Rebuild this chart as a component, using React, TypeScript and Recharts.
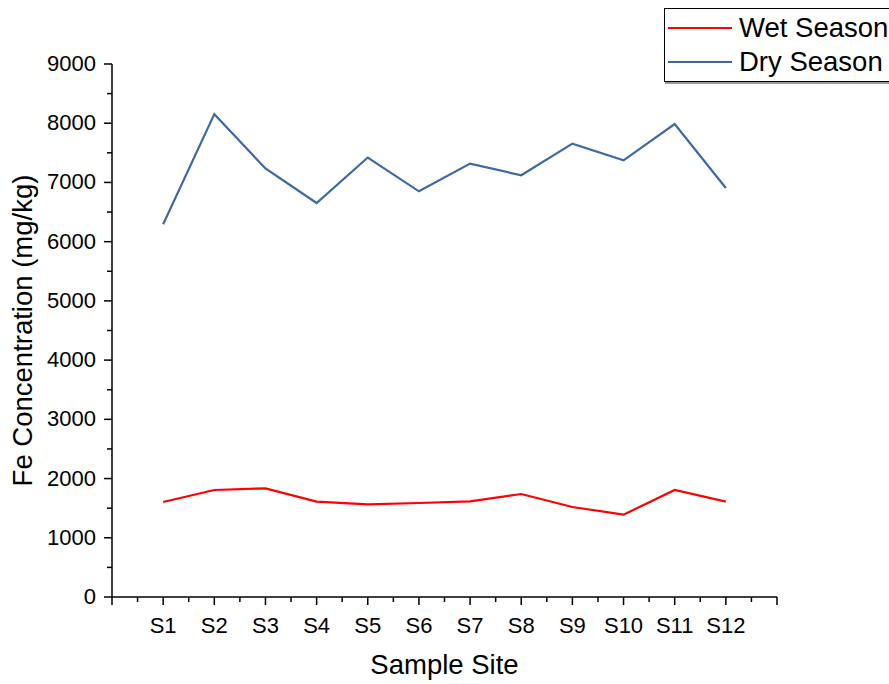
import React from "react";
import { LineChart, Line, XAxis, YAxis, Legend } from "recharts";

const sites = ["S1", "S2", "S3", "S4", "S5", "S6", "S7", "S8", "S9", "S10", "S11", "S12"];
const wetSeason = [1604, 1807, 1835, 1610, 1565, 1587, 1616, 1739, 1520, 1390, 1807, 1610];
const drySeason = [6294, 8153, 7235, 6653, 7421, 6850, 7318, 7121, 7655, 7374, 7987, 6906];
const yLabels = [0, 1000, 2000, 3000, 4000, 5000, 6000, 7000, 8000, 9000];
const seriesNames = ["Wet Season", "Dry Season"];

const FONT = "'Liberation Sans', Arial, sans-serif";

const data = sites.map((site, i) => ({
  pos: i + 1,
  site,
  wet: wetSeason[i],
  dry: drySeason[i],
}));

// major ticks on each site (plus the empty ends), minor ticks half way between
const xTicks: number[] = [];
for (let i = 0; i <= sites.length + 1; i += 0.5) xTicks.push(i);
const yTicks: number[] = [];
for (let v = 0; v <= 9000; v += 500) yTicks.push(v);

const XTick = (props: any) => {
  const { x, y, payload } = props;
  const v = payload.value;
  const major = Number.isInteger(v);
  const label = major ? sites[v - 1] : undefined;
  return (
    <g>
      <line x1={x} x2={x} y1={y} y2={y + (major ? 8 : 5)} stroke="#000" strokeWidth={1.5} />
      {label && (
        <text x={x} y={y + 36} textAnchor="middle" fontSize={22} fontFamily={FONT} fill="#000">
          {label}
        </text>
      )}
    </g>
  );
};

const YTick = (props: any) => {
  const { x, y, payload } = props;
  const v = payload.value;
  const major = yLabels.includes(v);
  return (
    <g>
      <line x1={x - (major ? 8 : 5)} x2={x} y1={y} y2={y} stroke="#000" strokeWidth={1.5} />
      {major && (
        <text x={x - 16} y={y + 7} textAnchor="end" fontSize={22} fontFamily={FONT} fill="#000">
          {v}
        </text>
      )}
    </g>
  );
};

const renderLegend = (props: any) => {
  const items = [...props.payload].sort(
    (a: any, b: any) => seriesNames.indexOf(a.value) - seriesNames.indexOf(b.value)
  );
  return (
    <div
      style={{
        border: "1.5px solid #000",
        boxShadow: "1px 2px 0 #999",
        background: "#fff",
        width: 240,
        padding: "2px 0",
        fontFamily: FONT,
      }}
    >
      {items.map((entry: any) => (
        <div key={entry.value} style={{ display: "flex", alignItems: "center", height: 34 }}>
          <div style={{ width: 64, height: 2.5, background: entry.color, marginLeft: 3, marginRight: 7 }} />
          <span style={{ fontSize: 27.5, color: "#000", lineHeight: "34px" }}>{entry.value}</span>
        </div>
      ))}
    </div>
  );
};

export default function App() {
  return (
    <div style={{ position: "absolute", left: 0, top: 0, width: 889, height: 684, overflow: "hidden", background: "#fff" }}>
      <LineChart
        width={889}
        height={684}
        data={data}
        margin={{ top: 64, right: 112, bottom: 0, left: 0 }}
        style={{ fontFamily: FONT }}
      >
        <XAxis
          dataKey="pos"
          type="number"
          domain={[0, sites.length + 1]}
          ticks={xTicks}
          interval={0}
          height={87}
          tickSize={0}
          tickMargin={0}
          tickLine={false}
          tick={<XTick />}
          axisLine={{ stroke: "#000", strokeWidth: 1.5 }}
          label={{
            content: (p: any) => {
              const vb = p.viewBox;
              return (
                <text x={vb.x + vb.width / 2} y={vb.y + 77} textAnchor="middle" fontSize={27.5} fontFamily={FONT} fill="#000">
                  Sample Site
                </text>
              );
            },
          }}
        />
        <YAxis
          type="number"
          domain={[0, 9000]}
          ticks={yTicks}
          interval={0}
          width={112}
          tickSize={0}
          tickMargin={0}
          tickLine={false}
          tick={<YTick />}
          axisLine={{ stroke: "#000", strokeWidth: 1.5 }}
          label={{
            content: (p: any) => {
              const vb = p.viewBox;
              const cx = vb.x + 32;
              const cy = vb.y + vb.height / 2;
              return (
                <text
                  x={cx}
                  y={cy}
                  transform={`rotate(-90, ${cx}, ${cy})`}
                  textAnchor="middle"
                  fontSize={27.5}
                  fontFamily={FONT}
                  fill="#000"
                >
                  Fe Concentration (mg/kg)
                </text>
              );
            },
          }}
        />
        <Legend
          layout="vertical"
          align="center"
          verticalAlign="middle"
          content={renderLegend}
          wrapperStyle={{ position: "absolute", left: 664, top: 8, width: 240 }}
        />
        <Line
          type="linear"
          dataKey="wet"
          name="Wet Season"
          stroke="#ff0000"
          strokeWidth={2.2}
          dot={false}
          activeDot={false}
          isAnimationActive={false}
        />
        <Line
          type="linear"
          dataKey="dry"
          name="Dry Season"
          stroke="#3d6aa2"
          strokeWidth={2.2}
          dot={false}
          activeDot={false}
          isAnimationActive={false}
        />
      </LineChart>
    </div>
  );
}
